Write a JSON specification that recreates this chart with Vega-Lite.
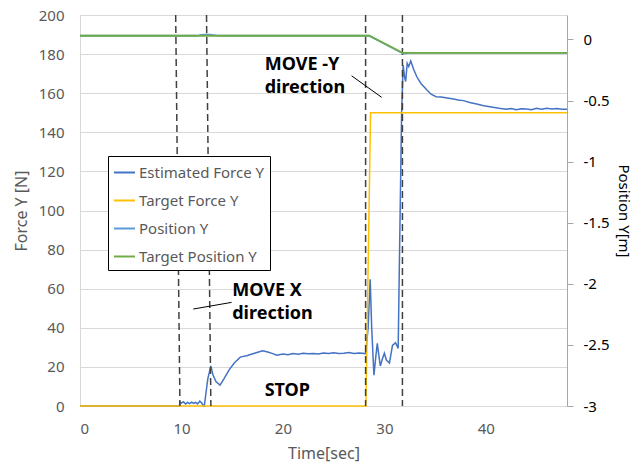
{
 "$schema": "https://vega.github.io/schema/vega-lite/v6.json",
 "width": 487, "height": 391,
 "autosize": {"type": "none"},
 "padding": {"left": 80, "top": 15, "right": 73, "bottom": 58},
 "background": "white",
 "config": {"font": "Noto Sans", "view": {"stroke": null}},
 "datasets": {
  "force": [
   {"series":"Estimated Force Y","t":0,"v":0},{"series":"Estimated Force Y","t":9.8,"v":0},{"series":"Estimated Force Y","t":9.85,"v":2},{"series":"Estimated Force Y","t":10.0,"v":1.5},{"series":"Estimated Force Y","t":10.2,"v":2.2},{"series":"Estimated Force Y","t":10.4,"v":1.0},{"series":"Estimated Force Y","t":10.6,"v":1.8},{"series":"Estimated Force Y","t":10.8,"v":1.2},{"series":"Estimated Force Y","t":11.0,"v":2.0},{"series":"Estimated Force Y","t":11.2,"v":1.3},{"series":"Estimated Force Y","t":11.4,"v":1.9},{"series":"Estimated Force Y","t":11.6,"v":1.1},{"series":"Estimated Force Y","t":11.8,"v":2.5},{"series":"Estimated Force Y","t":12.0,"v":1.5},{"series":"Estimated Force Y","t":12.15,"v":0.2},{"series":"Estimated Force Y","t":12.25,"v":0},{"series":"Estimated Force Y","t":12.4,"v":6},{"series":"Estimated Force Y","t":12.6,"v":14},{"series":"Estimated Force Y","t":12.9,"v":20.5},{"series":"Estimated Force Y","t":13.1,"v":16},{"series":"Estimated Force Y","t":13.4,"v":12.5},{"series":"Estimated Force Y","t":13.8,"v":10.7},{"series":"Estimated Force Y","t":14.2,"v":14},{"series":"Estimated Force Y","t":14.7,"v":18.5},{"series":"Estimated Force Y","t":15.2,"v":22},{"series":"Estimated Force Y","t":15.8,"v":25},{"series":"Estimated Force Y","t":16.5,"v":25.8},{"series":"Estimated Force Y","t":17.2,"v":27},{"series":"Estimated Force Y","t":18.0,"v":28.3},{"series":"Estimated Force Y","t":18.5,"v":27.6},{"series":"Estimated Force Y","t":19.0,"v":26.8},{"series":"Estimated Force Y","t":19.4,"v":26},{"series":"Estimated Force Y","t":20,"v":26.6},{"series":"Estimated Force Y","t":20.5,"v":26.2},{"series":"Estimated Force Y","t":21,"v":26.8},{"series":"Estimated Force Y","t":21.5,"v":26.5},{"series":"Estimated Force Y","t":22,"v":27},{"series":"Estimated Force Y","t":22.5,"v":26.7},{"series":"Estimated Force Y","t":23,"v":26.9},{"series":"Estimated Force Y","t":23.5,"v":26.6},{"series":"Estimated Force Y","t":24,"v":27.1},{"series":"Estimated Force Y","t":24.5,"v":26.8},{"series":"Estimated Force Y","t":25,"v":27.2},{"series":"Estimated Force Y","t":25.5,"v":26.9},{"series":"Estimated Force Y","t":26,"v":27},{"series":"Estimated Force Y","t":26.5,"v":27.3},{"series":"Estimated Force Y","t":27,"v":26.8},{"series":"Estimated Force Y","t":27.5,"v":27.1},{"series":"Estimated Force Y","t":28.15,"v":26.8},{"series":"Estimated Force Y","t":28.4,"v":40},{"series":"Estimated Force Y","t":28.6,"v":64.8},{"series":"Estimated Force Y","t":28.75,"v":40},{"series":"Estimated Force Y","t":28.97,"v":15.8},{"series":"Estimated Force Y","t":29.15,"v":25},{"series":"Estimated Force Y","t":29.3,"v":32},{"series":"Estimated Force Y","t":29.45,"v":26},{"series":"Estimated Force Y","t":29.6,"v":20.5},{"series":"Estimated Force Y","t":29.8,"v":24},{"series":"Estimated Force Y","t":30.0,"v":27},{"series":"Estimated Force Y","t":30.2,"v":23.5},{"series":"Estimated Force Y","t":30.5,"v":22},{"series":"Estimated Force Y","t":30.8,"v":31},{"series":"Estimated Force Y","t":31.1,"v":32.4},{"series":"Estimated Force Y","t":31.36,"v":29.5},{"series":"Estimated Force Y","t":31.5,"v":80},{"series":"Estimated Force Y","t":31.7,"v":150},{"series":"Estimated Force Y","t":31.85,"v":174.4},{"series":"Estimated Force Y","t":32.0,"v":168},{"series":"Estimated Force Y","t":32.1,"v":166},{"series":"Estimated Force Y","t":32.25,"v":175.3},{"series":"Estimated Force Y","t":32.4,"v":173.6},{"series":"Estimated Force Y","t":32.6,"v":176.5},{"series":"Estimated Force Y","t":32.9,"v":172},{"series":"Estimated Force Y","t":33.2,"v":168.4},{"series":"Estimated Force Y","t":33.6,"v":165},{"series":"Estimated Force Y","t":34.2,"v":161.6},{"series":"Estimated Force Y","t":34.6,"v":159.5},{"series":"Estimated Force Y","t":35.1,"v":158.2},{"series":"Estimated Force Y","t":35.6,"v":158},{"series":"Estimated Force Y","t":36.2,"v":157.5},{"series":"Estimated Force Y","t":36.8,"v":157},{"series":"Estimated Force Y","t":37.3,"v":156.5},{"series":"Estimated Force Y","t":37.8,"v":156.2},{"series":"Estimated Force Y","t":38.4,"v":155.2},{"series":"Estimated Force Y","t":39.1,"v":154.5},{"series":"Estimated Force Y","t":39.8,"v":153.6},{"series":"Estimated Force Y","t":40.7,"v":152.8},{"series":"Estimated Force Y","t":41.3,"v":152.3},{"series":"Estimated Force Y","t":42.0,"v":151.8},{"series":"Estimated Force Y","t":42.5,"v":152.2},{"series":"Estimated Force Y","t":43,"v":151.6},{"series":"Estimated Force Y","t":43.5,"v":152},{"series":"Estimated Force Y","t":44.0,"v":151.9},{"series":"Estimated Force Y","t":44.5,"v":151.6},{"series":"Estimated Force Y","t":45,"v":152.3},{"series":"Estimated Force Y","t":45.5,"v":151.8},{"series":"Estimated Force Y","t":46.0,"v":152.3},{"series":"Estimated Force Y","t":46.5,"v":151.9},{"series":"Estimated Force Y","t":47,"v":152.2},{"series":"Estimated Force Y","t":47.5,"v":151.8},{"series":"Estimated Force Y","t":48.0,"v":151.8},
   {"series":"Target Force Y","t":0,"v":0},{"series":"Target Force Y","t":28.18,"v":0},{"series":"Target Force Y","t":28.64,"v":150},{"series":"Target Force Y","t":48,"v":150}
  ],
  "pos": [
   {"series":"Position Y","t":0,"v":0.03},{"series":"Position Y","t":11.5,"v":0.03},{"series":"Position Y","t":12.0,"v":0.037},{"series":"Position Y","t":12.5,"v":0.042},{"series":"Position Y","t":13.0,"v":0.037},{"series":"Position Y","t":13.5,"v":0.031},{"series":"Position Y","t":14,"v":0.03},{"series":"Position Y","t":28.5,"v":0.03},{"series":"Position Y","t":31.6,"v":-0.105},{"series":"Position Y","t":31.9,"v":-0.116},{"series":"Position Y","t":32.6,"v":-0.11},{"series":"Position Y","t":48,"v":-0.11},
   {"series":"Target Position Y","t":0,"v":0.03},{"series":"Target Position Y","t":28.5,"v":0.03},{"series":"Target Position Y","t":31.8,"v":-0.11},{"series":"Target Position Y","t":48,"v":-0.11}
  ],
  "guides": [
   {"t":9.43,"t2":9.85},{"t":12.47,"t2":12.9},{"t":28.15,"t2":28.15},{"t":31.78,"t2":31.78}
  ],
  "labels": [
   {"t":18.2,"f":174.2,"text":"MOVE -Y"},{"t":18.2,"f":162.6,"text":"direction"},
   {"t":15.0,"f":58.8,"text":"MOVE X"},{"t":15.0,"f":47.0,"text":"direction"},
   {"t":18.2,"f":7.8,"text":"STOP"}
  ],
  "leaders": [
   {"t":26.77,"f":168.9,"t2":29.73,"f2":157.9},
   {"t":11.16,"f":49.6,"t2":14.94,"f2":53.0}
  ]
 },
 "layer": [
  {"layer": [
   {"data":{"name":"force"},
    "mark":{"type":"line","strokeWidth":1.5},
    "encoding":{
     "x":{"field":"t","type":"quantitative","scale":{"domain":[0,48],"nice":false,"zero":false},
      "axis":{"values":[0,10,20,30,40],"title":"Time[sec]","grid":false,"ticks":false,"domainColor":"#d9d9d9","labelColor":"#595959","labelFontSize":15,"labelPadding":15,"titleColor":"#595959","titleFontSize":16,"titleFontWeight":"normal","titlePadding":9}},
     "y":{"field":"v","type":"quantitative","scale":{"domain":[0,200],"nice":false},
      "axis":{"values":[0,20,40,60,80,100,120,140,160,180,200],"title":"Force Y [N]","grid":true,"gridColor":"#d9d9d9","ticks":false,"domainColor":"#d9d9d9","labelColor":"#595959","labelFontSize":15,"labelPadding":16,"titleColor":"#595959","titleFontSize":16,"titleFontWeight":"normal","titlePadding":9}},
     "color":{"field":"series","type":"nominal",
      "scale":{"domain":["Estimated Force Y","Target Force Y","Position Y","Target Position Y"],"range":["#4472C4","#FFC000","#5B9BD5","#70AD47"]},
      "legend":{"orient":"none","legendX":28,"legendY":141,"title":null,"fillColor":"white","strokeColor":"black","padding":5,"symbolType":"stroke","symbolSize":441,"symbolStrokeWidth":2,"labelFontSize":15,"labelColor":"#595959","rowPadding":8,"labelOffset":3,"cornerRadius":0}}
    }},
   {"data":{"name":"guides"},
    "mark":{"type":"rule","strokeDash":[7,4],"color":"#404040","strokeWidth":1.5},
    "encoding":{
     "x":{"field":"t","type":"quantitative",
      "axis":{"values":[0,10,20,30,40],"title":"Time[sec]","grid":false,"ticks":false,"domainColor":"#d9d9d9","labelColor":"#595959","labelFontSize":15,"labelPadding":15,"titleColor":"#595959","titleFontSize":16,"titleFontWeight":"normal","titlePadding":9}},
     "x2":{"field":"t2"},
     "y":{"datum":200,"type":"quantitative",
      "axis":{"values":[0,20,40,60,80,100,120,140,160,180,200],"title":"Force Y [N]","grid":true,"gridColor":"#d9d9d9","ticks":false,"domainColor":"#d9d9d9","labelColor":"#595959","labelFontSize":15,"labelPadding":16,"titleColor":"#595959","titleFontSize":16,"titleFontWeight":"normal","titlePadding":9}},
     "y2":{"datum":0}}},
   {"data":{"name":"leaders"},
    "mark":{"type":"rule","color":"black","strokeWidth":1},
    "encoding":{
     "x":{"field":"t","type":"quantitative",
      "axis":{"values":[0,10,20,30,40],"title":"Time[sec]","grid":false,"ticks":false,"domainColor":"#d9d9d9","labelColor":"#595959","labelFontSize":15,"labelPadding":15,"titleColor":"#595959","titleFontSize":16,"titleFontWeight":"normal","titlePadding":9}},
     "x2":{"field":"t2"},
     "y":{"field":"f","type":"quantitative",
      "axis":{"values":[0,20,40,60,80,100,120,140,160,180,200],"title":"Force Y [N]","grid":true,"gridColor":"#d9d9d9","ticks":false,"domainColor":"#d9d9d9","labelColor":"#595959","labelFontSize":15,"labelPadding":16,"titleColor":"#595959","titleFontSize":16,"titleFontWeight":"normal","titlePadding":9}},
     "y2":{"field":"f2"}}},
   {"data":{"name":"labels"},
    "mark":{"type":"text","align":"left","baseline":"middle","fontSize":18,"fontWeight":"bold","color":"black"},
    "encoding":{
     "x":{"field":"t","type":"quantitative",
      "axis":{"values":[0,10,20,30,40],"title":"Time[sec]","grid":false,"ticks":false,"domainColor":"#d9d9d9","labelColor":"#595959","labelFontSize":15,"labelPadding":15,"titleColor":"#595959","titleFontSize":16,"titleFontWeight":"normal","titlePadding":9}},
     "y":{"field":"f","type":"quantitative",
      "axis":{"values":[0,20,40,60,80,100,120,140,160,180,200],"title":"Force Y [N]","grid":true,"gridColor":"#d9d9d9","ticks":false,"domainColor":"#d9d9d9","labelColor":"#595959","labelFontSize":15,"labelPadding":16,"titleColor":"#595959","titleFontSize":16,"titleFontWeight":"normal","titlePadding":9}},
     "text":{"field":"text"}}}
  ]},
  {"data":{"name":"pos"},
   "mark":{"type":"line","strokeWidth":1.8},
   "encoding":{
    "x":{"field":"t","type":"quantitative",
     "axis":{"values":[0,10,20,30,40],"title":"Time[sec]","grid":false,"ticks":false,"domainColor":"#d9d9d9","labelColor":"#595959","labelFontSize":15,"labelPadding":15,"titleColor":"#595959","titleFontSize":16,"titleFontWeight":"normal","titlePadding":9}},
    "y":{"field":"v","type":"quantitative","scale":{"domain":[-3,0.2],"nice":false,"zero":false},
     "axis":{"orient":"right","values":[-3,-2.5,-2,-1.5,-1,-0.5,0],"labelExpr":"toString(datum.value)","title":"Position Y[m]","grid":false,"ticks":true,"tickSize":6,"tickColor":"#a6a6a6","domainColor":"#a6a6a6","labelColor":"black","labelFontSize":15,"labelPadding":10,"titleColor":"black","titleFontSize":15,"titleFontWeight":"normal","titlePadding":6}},
    "color":{"field":"series","type":"nominal"}
   }}
 ],
 "resolve":{"scale":{"y":"independent"}}
}
